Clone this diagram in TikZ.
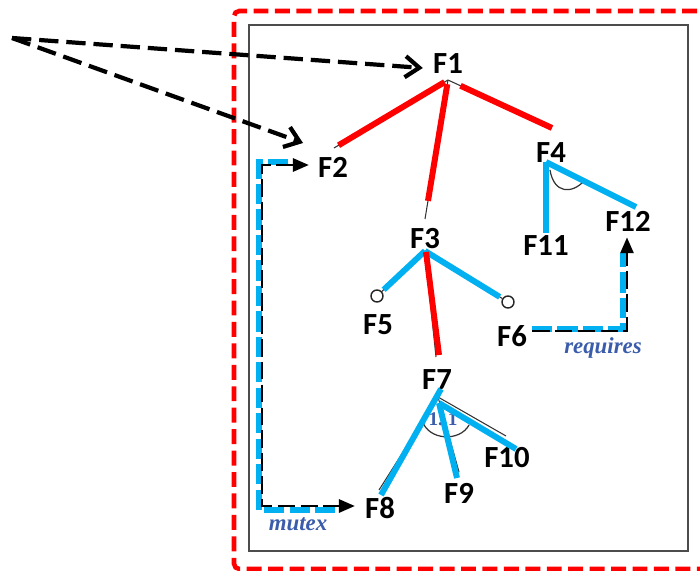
\documentclass[tikz,border=0pt]{standalone}
\usepackage{fontspec}
\newfontfamily\labelfont{Carlito}
\newfontfamily\notefont{Liberation Serif}
\usetikzlibrary{arrows.meta,calc}
\definecolor{fred}{RGB}{255,0,0}
\definecolor{fblue}{RGB}{0,176,240}
\definecolor{nblue}{RGB}{58,92,170}
\tikzset{
  feat/.style={font=\labelfont\bfseries\fontsize{17.5}{20}\selectfont, inner sep=0pt},
  note/.style={font=\notefont\bfseries\itshape\fontsize{13}{15}\selectfont, text=nblue, inner sep=0pt},
  cardnote/.style={font=\notefont\bfseries\fontsize{11}{13}\selectfont, text=nblue, inner sep=0pt},
  treeline/.style={black!80, line width=0.6pt},
  mandline/.style={fred, line width=3.4pt},
  grpline/.style={fblue, line width=3.4pt},
  optend/.style={circle, draw=black!85, line width=0.8pt, fill=white, inner sep=0pt, minimum size=0.24cm},
  blueconstr/.style={fblue, line width=3.4pt, dash pattern=on 11.5pt off 3pt},
  ctip/.tip={Triangle[length=9pt,width=7.5pt]},
  constr/.style={black, line width=1.3pt, dash pattern=on 10pt off 3pt, -ctip},
  refarrow/.style={black, line width=2.4pt, dash pattern=on 11pt off 4.5pt,
    -{Straight Barb[length=8pt,width=12pt,line width=2.4pt]}},
  cardarc/.style={black!80, line width=0.7pt}
}
\begin{document}
\begin{tikzpicture}[x=0.02cm,y=-0.02cm]
\useasboundingbox (0,0) rectangle (700,571);

% outer dashed frame and inner model frame
\draw[fred, line width=2.6pt, dash pattern=on 8.5pt off 3.7pt, rounded corners=3pt]
  (740,11) -- (234,11) -- (234,569) -- (740,569);
\draw[black!70, line width=1.1pt] (249,25) rectangle (688,551);

% feature labels
\node[feat] (F1)  at (448,64)  {F1};
\node[feat] (F2)  at (333,167) {F2};
\node[feat] (F3)  at (425,239) {F3};
\node[feat] (F4)  at (551,153) {F4};
\node[feat] (F5)  at (378,325) {F5};
\node[feat] (F6)  at (512,336) {F6};
\node[feat] (F7)  at (437,380) {F7};
\node[feat] (F8)  at (380,508) {F8};
\node[feat] (F9)  at (459,493) {F9};
\node[feat] (F10) at (507,458) {F10};
\node[feat] (F11) at (546,246) {F11};
\node[feat] (F12) at (628,221) {F12};

% attachment points of the tree edges
\coordinate (a1) at (448,80);
\coordinate (e2) at (334,148);
\coordinate (e3) at (425,219);
\coordinate (e4) at (552,128);
\coordinate (a3) at (425,251);
\coordinate (e7) at (436,357);
\coordinate (a4) at (546,162);
\coordinate (e11) at (546,233);
\coordinate (e12) at (636,207);
\coordinate (a7) at (438,397);
\coordinate (b8) at (379,490);
\coordinate (b9) at (459,472);
\coordinate (b10) at (506,436);
\coordinate (s8) at (441,389);
\coordinate (s9) at (439,403);
\coordinate (t8) at (381,495);
\coordinate (t9) at (457,478);
\coordinate (t10) at (516,449);

% optional-feature markers
\node[optend] (c5) at (377,296) {};
\node[optend] (c6) at (508,302) {};

% F1 subtree (mandatory children)
\draw[treeline] (a1) -- (e2);
\draw[treeline] (a1) -- (e3);
\draw[treeline] (a1) -- (e4);
\draw[mandline] ($(a1)!0.03!(e2)$) -- ($(a1)!0.96!(e2)$);
\draw[mandline] ($(a1)!0.03!(e3)$) -- ($(a1)!0.87!(e3)$);
\draw[mandline] ($(a1)!0.12!(e4)$) -- (e4);

% F3 subtree
\draw[treeline] (a3) -- (c5);
\draw[treeline] (a3) -- (c6);
\draw[treeline] (a3) -- (e7);
\draw[grpline] (a3) -- ($(a3)!0.86!(c5)$);
\draw[grpline] (a3) -- ($(a3)!0.9!(c6)$);
\draw[mandline] ($(a3)+(1,1)$) -- ($(e7)+(3,-2)$);

% F4 alternative group
\draw[cardarc] (550,170) .. controls (554,194) and (572,194) .. (584,181);
\draw[grpline] (a4) -- (e11);
\draw[grpline] (a4) -- (e12);

% F7 group with cardinality
\draw[cardarc] (422,420) .. controls (428,441) and (460,442) .. (469,425);
\node[cardnote] (card) at (443,419) {1..1};
\draw[treeline] (a7) -- (b8);
\draw[treeline] (a7) -- (b9);
\draw[treeline] (a7) -- (b10);
\draw[grpline] (s8) -- (t8);
\draw[grpline] (s9) -- (t9);
\draw[grpline] (s9) -- (t10);

% mutex constraint between F2 and F8
\draw[blueconstr] (288,162) -- (259,162) -- (259,510) -- (338,510);
\coordinate (m2) at ($(F2.west)+(-9,-2)$);
\coordinate (m8) at ($(F8.west)+(-10,-2)$);
\draw[constr, ctip-ctip] (m2) -- (262,165) -- (262,506) -- (m8);
\node[note] (mx) at (298,524) {mutex};

% requires constraint from F6 to F12
\draw[blueconstr] (532,329) -- (623,329) -- (623,253);
\coordinate (r12) at ($(F12.south)+(-1,6)$);
\draw[constr] (532,331) -- (627,331) -- (r12);
\node[note] (rq) at (603,348) {requires};

% external references
\coordinate (src) at (12,38);
\coordinate (t1) at ($(F1.west)+(-10,4)$);
\coordinate (t2) at (303,143);
\draw[refarrow] (src) -- (t1);
\draw[refarrow] (src) -- (t2);
\end{tikzpicture}
\end{document}
